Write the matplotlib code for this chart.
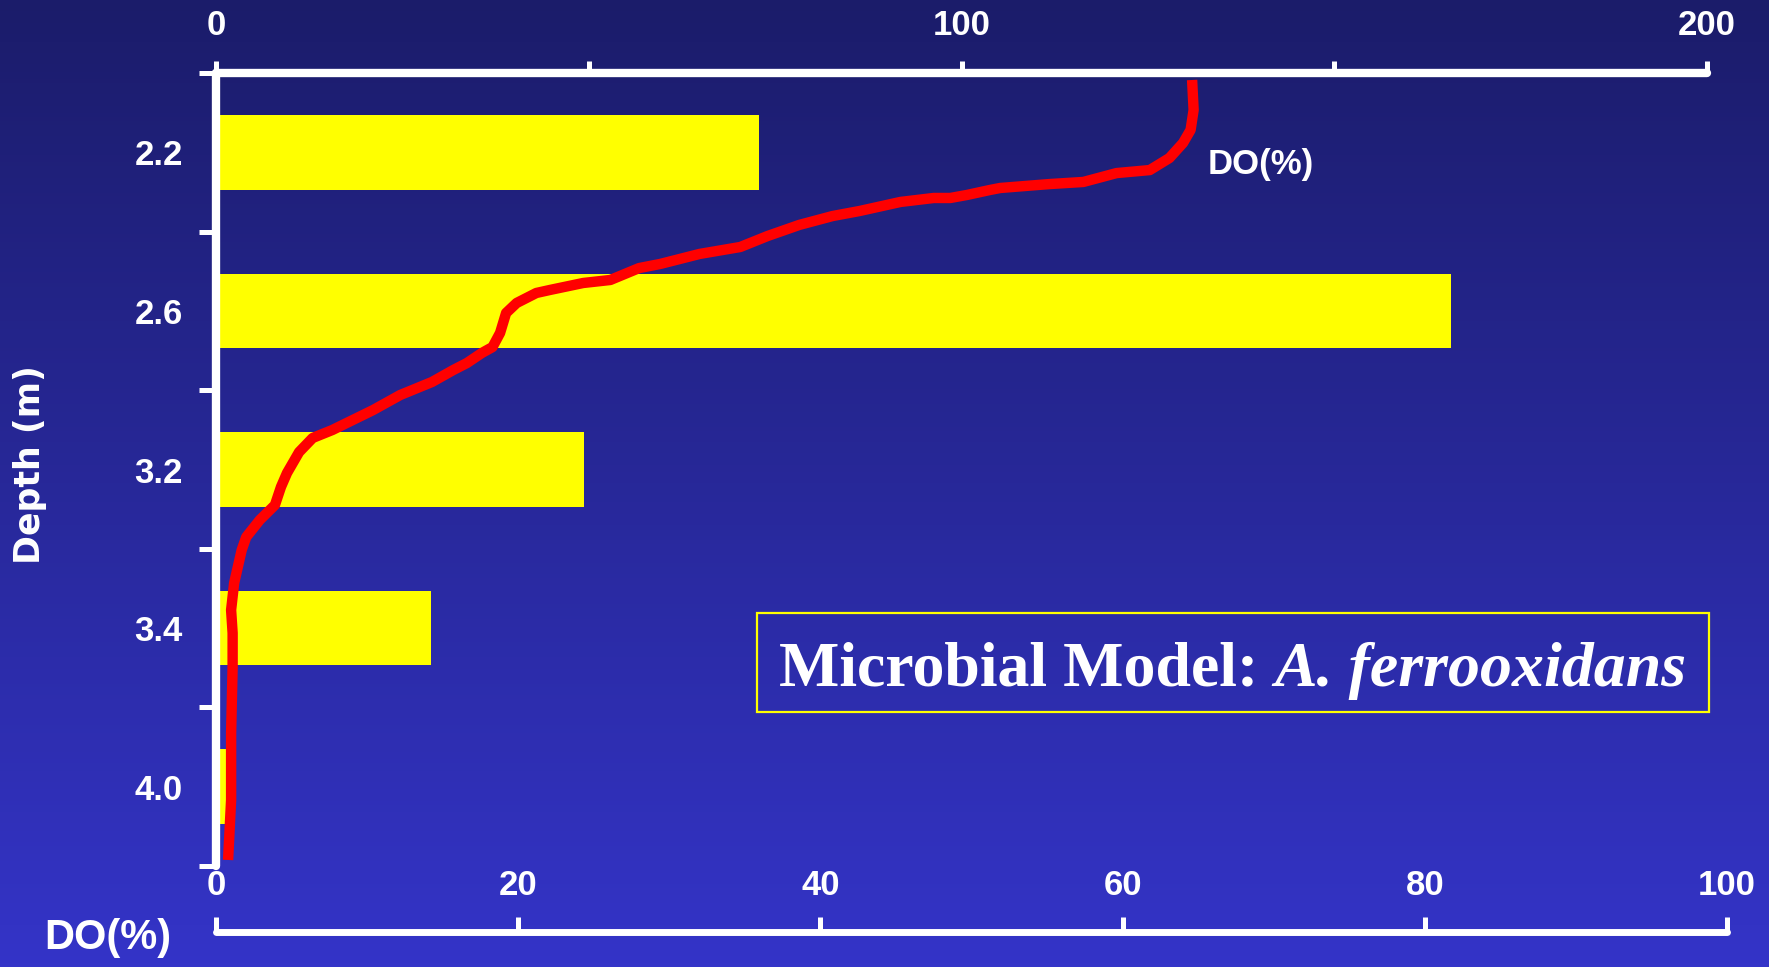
import numpy as np
import matplotlib
matplotlib.use('Agg')
import matplotlib.pyplot as plt
from matplotlib.patches import Rectangle

# ---------------- data ----------------
depth_labels = ['2.2', '2.6', '3.2', '3.4', '4.0']
bar_values = [72.9, 165.7, 49.4, 28.9, 1.4]           # top axis scale (0-200)
top_ticks = [0, 50, 100, 150, 200]
top_tick_labels = ['0', '', '100', '', '200']
bottom_ticks = [0, 20, 40, 60, 80, 100]
bottom_tick_labels = ['0', '20', '40', '60', '80', '100']

# DO(%) profile (bottom axis), depth given in category-position units (0 = top, 5 = bottom)
do_pct = [64.6, 64.7, 64.5, 64.0, 63.1, 61.8, 59.6, 57.4, 55.2, 51.9, 51.2, 49.7,
          48.6, 47.5, 45.3, 42.6, 40.8, 38.6, 36.5, 34.7, 32.0, 29.4, 28.0, 26.1,
          24.3, 22.1, 21.2, 19.9, 19.2, 18.8, 18.3, 17.6, 16.6, 15.7, 14.3, 12.2,
          10.4, 7.7, 6.4, 5.5, 4.7, 4.3, 3.9, 2.9, 2.0, 1.7, 1.2, 1.0, 1.1, 1.1,
          1.0, 1.0, 0.8]
do_pos = [0.044, 0.233, 0.359, 0.441, 0.536, 0.612, 0.631, 0.687, 0.700, 0.725, 0.738, 0.769,
          0.788, 0.788, 0.813, 0.870, 0.902, 0.958, 1.028, 1.097, 1.141, 1.204, 1.230, 1.305,
          1.324, 1.368, 1.387, 1.450, 1.513, 1.639, 1.728, 1.765, 1.829, 1.873, 1.948, 2.030,
          2.125, 2.251, 2.301, 2.390, 2.522, 2.610, 2.724, 2.818, 2.926, 3.008, 3.216, 3.386, 3.531, 3.745,
          4.161, 4.584, 4.962]

title_main = 'Microbial Model: '
title_ital = 'A. ferrooxidans'

# ---------------- layout helpers ----------------
W, H, DPI = 1769, 967, 100
def fx(px): return px / W
def fy(py): return 1 - py / H

fig = plt.figure(figsize=(W / DPI, H / DPI), dpi=DPI)

# background gradient
bg = fig.add_axes([0, 0, 1, 1], zorder=-10)
top_c = np.array([27, 28, 106]) / 255
bot_c = np.array([52, 52, 200]) / 255
t = np.linspace(0, 1, 256)[:, None, None]
grad = top_c[None, None, :] * (1 - t) + bot_c[None, None, :] * t
bg.imshow(grad, aspect='auto', extent=[0, 1, 0, 1])
bg.axis('off')

sans = ['Liberation Sans', 'DejaVu Sans']
lbl_size = 25
white = 'white'

# ---------------- bar axes (top scale) ----------------
y_top, y_bot = 73, 866
ax = fig.add_axes([fx(216), fy(y_bot), fx(1707) - fx(216), fy(y_top) - fy(y_bot)])
ax.set_facecolor('none')
pos = np.arange(len(depth_labels)) + 0.5
ax.barh(pos, bar_values, height=0.47, color='#FFFF00', edgecolor='none', zorder=2)
ax.set_xlim(0, 200)
ax.set_ylim(len(depth_labels), 0)
for s in ['right', 'bottom']:
    ax.spines[s].set_visible(False)
for s in ['top', 'left']:
    ax.spines[s].set_color(white)
    ax.spines[s].set_linewidth(6)
    ax.spines[s].set_capstyle('round')
ax.xaxis.set_ticks_position('top')
ax.set_xticks(top_ticks, top_tick_labels)
ax.tick_params(axis='x', which='major', direction='out', length=9, width=3.6,
               color=white, labelcolor=white, labelsize=lbl_size, pad=13)
ax.set_yticks(np.arange(len(depth_labels) + 1))
ax.set_yticklabels([])
ax.tick_params(axis='y', which='major', direction='out', length=12, width=3.6, color=white)
ax.set_yticks(pos, depth_labels, minor=True)
ax.tick_params(axis='y', which='minor', length=0, pad=24, labelcolor=white, labelsize=lbl_size)
for lab in ax.get_xticklabels() + ax.get_yticklabels(minor=True):
    lab.set_fontfamily(sans)
    lab.set_fontweight('bold')

# ---------------- DO curve axes (bottom scale) ----------------
ax2 = fig.add_axes([fx(216), fy(y_bot), fx(1727) - fx(216), fy(y_top) - fy(y_bot)])
ax2.set_facecolor('none')
ax2.plot(do_pct, do_pos, color='#FF0000', lw=7.5, solid_capstyle='butt', solid_joinstyle='round', zorder=3)
ax2.set_xlim(0, 100)
ax2.set_ylim(len(depth_labels), 0)
for s in ['top', 'right', 'left']:
    ax2.spines[s].set_visible(False)
ax2.spines['bottom'].set_position(('outward', 47.5))
ax2.spines['bottom'].set_color(white)
ax2.spines['bottom'].set_linewidth(5)
ax2.spines['bottom'].set_capstyle('round')
ax2.set_yticks([])
ax2.set_xticks(bottom_ticks, bottom_tick_labels)
ax2.tick_params(axis='x', direction='in', length=11, width=3.6, color=white,
                labelcolor=white, labelsize=lbl_size, pad=-45)
for lab in ax2.get_xticklabels():
    lab.set_fontfamily(sans)
    lab.set_fontweight('bold')
ax2.text(65.6, 0.58, 'DO(%)', ha='left', va='center', color=white,
         fontsize=25, fontweight='bold', family=sans)

# axis titles
fig.text(fx(30), fy(465), 'Depth (m)', rotation=90, ha='center', va='center',
         color=white, fontsize=25, fontweight='bold', family=['DejaVu Sans'])
fig.text(fx(108), fy(938), 'DO(%)', ha='center', va='center', color=white,
         fontsize=30, fontweight='bold', family=sans)

# title box
fig.add_artist(Rectangle((fx(757), fy(712)), fx(1709) - fx(757), fy(613) - fy(712),
                         transform=fig.transFigure, fill=False, edgecolor='#FFFF00', lw=1.6))
serif = ['Liberation Serif', 'DejaVu Serif']
t1 = fig.text(0, fy(686), title_main, ha='left', va='baseline', color=white,
              fontsize=46, fontweight='bold', family=serif)
t2 = fig.text(0, fy(686), title_ital, ha='left', va='baseline', color=white,
              fontsize=46, fontweight='bold', style='italic', family=serif)
fig.canvas.draw()
r = fig.canvas.get_renderer()
w1 = t1.get_window_extent(r).width
w2 = t2.get_window_extent(r).width
cx = 1233
start = cx - (w1 + w2) / 2
t1.set_x(fx(start))
t2.set_x(fx(start + w1))

fig.savefig('out.png', dpi=DPI)
